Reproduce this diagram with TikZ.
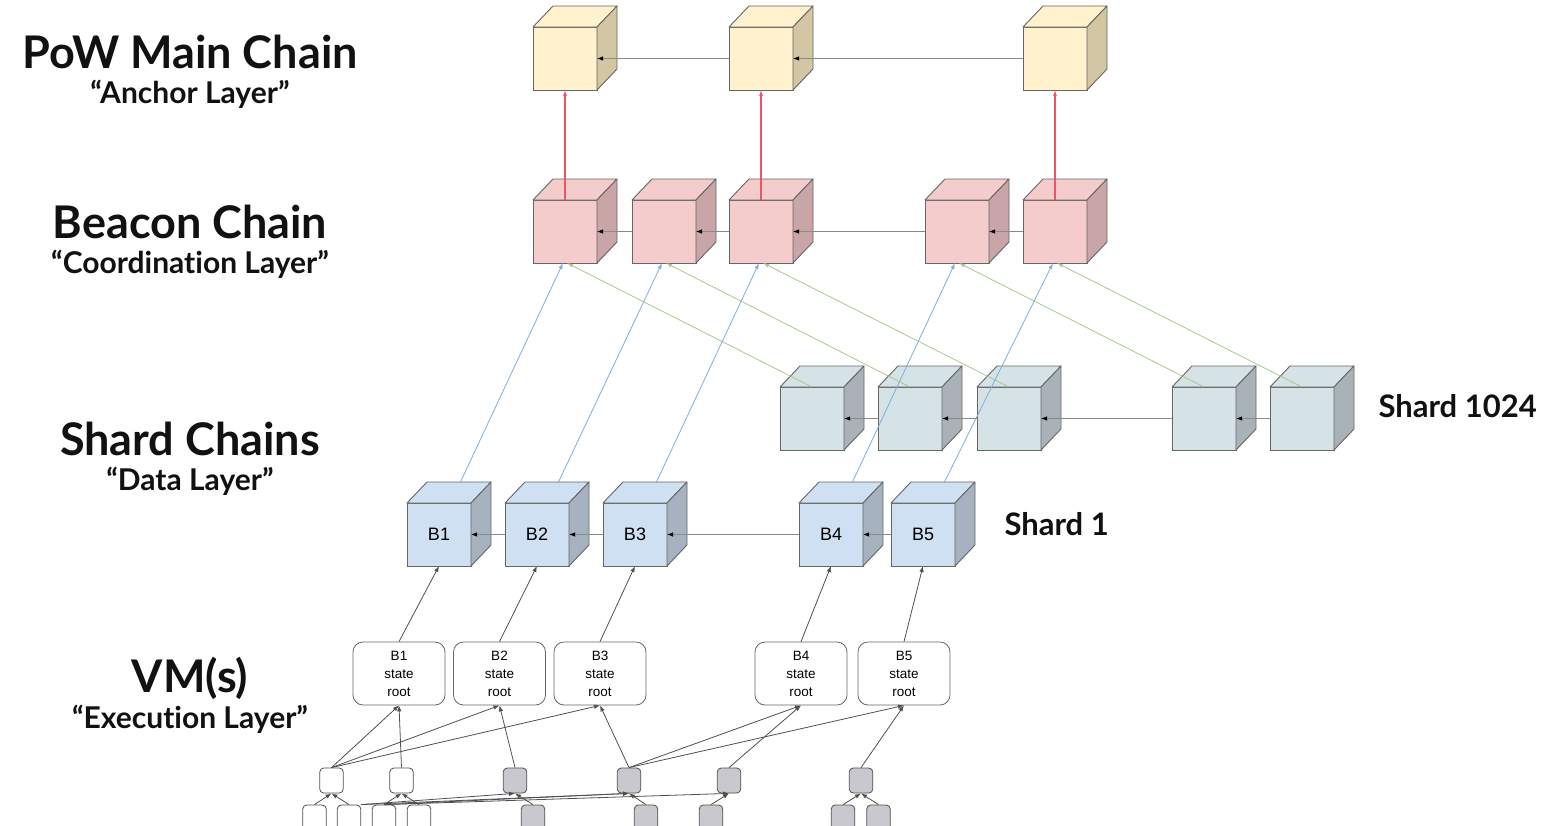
\documentclass[tikz,border=0pt]{standalone}
\usepackage{fontspec}
\setmainfont{Liberation Sans}
\newfontfamily\headfont{Lato}[Ligatures=NoCommon]
\usetikzlibrary{arrows.meta,calc}
\definecolor{powF}{HTML}{FFF2CC}
\definecolor{powS}{HTML}{D2C6A3}
\definecolor{beaF}{HTML}{F4CCCC}
\definecolor{beaS}{HTML}{C9A5A8}
\definecolor{shdF}{HTML}{D5E2E6}
\definecolor{shdS}{HTML}{A9B3B7}
\definecolor{sone}{HTML}{CFE0F3}
\definecolor{soneS}{HTML}{A6B2C0}
\definecolor{edgeC}{HTML}{666666}
\definecolor{rowC}{HTML}{8A8A8A}
\definecolor{redC}{HTML}{EA5466}
\definecolor{bluC}{HTML}{7FAEDB}
\definecolor{grnC}{HTML}{A8CA8E}
\definecolor{treeC}{HTML}{505050}
\definecolor{grayBox}{HTML}{C9C8CF}
\definecolor{txtC}{HTML}{111111}
\tikzset{
  cubefront/.style={draw=edgeC, line width=0.9pt, minimum width=64pt, minimum height=63pt, inner sep=0pt, outer sep=0pt, font=\fontsize{18}{20}\selectfont},
  cubeline/.style={draw=edgeC, line width=0.9pt, line join=round},
  rowarrow/.style={draw=rowC, line width=0.9pt, -{Latex[length=6pt,width=4.5pt,color=black]}},
  redarrow/.style={draw=redC, line width=1.05pt, -{Latex[length=6pt,width=4pt]}},
  bluarrow/.style={draw=bluC, line width=0.8pt, -{Latex[length=6pt,width=4pt]}},
  grnarrow/.style={draw=grnC, line width=0.8pt, -{Latex[length=6pt,width=4pt]}},
  treearrow/.style={draw=treeC, line width=0.8pt, -{Latex[length=6pt,width=4.5pt]}},
  rootbox/.style={draw=edgeC, line width=0.8pt, rounded corners=10pt, minimum width=92pt, minimum height=63pt, inner sep=0pt, align=center, font=\fontsize{13.5}{18}\selectfont},
  leafbox/.style={draw=treeC, line width=0.8pt, rounded corners=4pt, minimum width=23.5pt, minimum height=25pt, inner sep=0pt},
  head/.style={anchor=base, text=txtC, font=\headfont\bfseries\fontsize{45}{50}\selectfont},
  subhead/.style={anchor=base, text=txtC, font=\headfont\bfseries\fontsize{30}{32}\selectfont},
  shardlab/.style={anchor=base west, text=txtC, font=\headfont\bfseries\fontsize{31}{33}\selectfont}
}
\newcommand\mycube[6]{%
  \node[cubefront, fill=#4, anchor=north west] (#1) at (#2,#3) {#6};
  \filldraw[cubeline, fill=#4] (#1.north west) -- ++(20,-21) -- ++(64,0) -- (#1.north east) -- cycle;
  \filldraw[cubeline, fill=#5] (#1.north east) -- ++(20,-21) -- ++(0,63) -- (#1.south east) -- cycle;
}
\begin{document}
\begin{tikzpicture}[x=1pt,y=-1pt]
\useasboundingbox (0,0) rectangle (1548,825);
\clip (0,0) rectangle (1548,825);
\fill[white] (0,0) rectangle (1548,825);

% headings
\node[head] (h1) at (190,68) {PoW Main Chain};
\node[subhead] (s1) at (190,103) {“Anchor Layer”};
\node[head] (h2) at (190,238) {Beacon Chain};
\node[subhead] (s2) at (190,273) {“Coordination Layer”};
\node[head] (h3) at (190,455) {Shard Chains};
\node[subhead] (s3) at (190,490) {“Data Layer”};
\node[head] (h4) at (190,692) {VM(s)};
\node[subhead] (s4) at (190,728) {“Execution Layer”};
\node[shardlab] (lab1024) at (1375,417) {Shard 1024};
\node[shardlab] (labone) at (1001,535) {Shard 1};

% PoW cubes
\mycube{p1}{533}{27}{powF}{powS}{}
\mycube{p2}{729}{27}{powF}{powS}{}
\mycube{p3}{1023}{27}{powF}{powS}{}
% Beacon cubes
\mycube{b1}{533}{200}{beaF}{beaS}{}
\mycube{b2}{632}{200}{beaF}{beaS}{}
\mycube{b3}{729}{200}{beaF}{beaS}{}
\mycube{b4}{925}{200}{beaF}{beaS}{}
\mycube{b5}{1023}{200}{beaF}{beaS}{}
% Shard 1024 cubes
\mycube{c1}{780}{387}{shdF}{shdS}{}
\mycube{c2}{878}{387}{shdF}{shdS}{}
\mycube{c3}{977}{387}{shdF}{shdS}{}
\mycube{c4}{1172}{387}{shdF}{shdS}{}
\mycube{c5}{1270}{387}{shdF}{shdS}{}
% Shard 1 cubes
\mycube{d1}{407}{503}{sone}{soneS}{B1}
\mycube{d2}{505}{503}{sone}{soneS}{B2}
\mycube{d3}{603}{503}{sone}{soneS}{B3}
\mycube{d4}{799}{503}{sone}{soneS}{B4}
\mycube{d5}{891}{503}{sone}{soneS}{B5}

% row connectors
\draw[rowarrow] (p2.west) -- (p1.east);
\draw[rowarrow] (p3.west) -- (p2.east);
\draw[rowarrow] (b2.west) -- (b1.east);
\draw[rowarrow] (b3.west) -- (b2.east);
\draw[rowarrow] (b4.west) -- (b3.east);
\draw[rowarrow] (b5.west) -- (b4.east);
\draw[rowarrow] (c2.west) -- (c1.east);
\draw[rowarrow] (c3.west) -- (c2.east);
\draw[rowarrow] (c4.west) -- (c3.east);
\draw[rowarrow] (c5.west) -- (c4.east);
\draw[rowarrow] (d2.west) -- (d1.east);
\draw[rowarrow] (d3.west) -- (d2.east);
\draw[rowarrow] (d4.west) -- (d3.east);
\draw[rowarrow] (d5.west) -- (d4.east);

% red anchors
\draw[redarrow] (b1.north) -- (p1.south);
\draw[redarrow] (b3.north) -- (p2.south);
\draw[redarrow] (b5.north) -- (p3.south);

% green crosslinks
\draw[grnarrow] (c1.north) -- ($(b1.south)+(2,0)$);
\draw[grnarrow] (c2.north) -- ($(b2.south)+(2,0)$);
\draw[grnarrow] (c3.north) -- ($(b3.south)+(2,0)$);
\draw[grnarrow] (c4.north) -- ($(b4.south)+(2,0)$);
\draw[grnarrow] (c5.north) -- ($(b5.south)+(2,0)$);
% blue crosslinks
\draw[bluarrow] ($(d1.north)+(21,-20)$) -- ($(b1.south)+(-2,0)$);
\draw[bluarrow] ($(d2.north)+(21,-20)$) -- ($(b2.south)+(-2,0)$);
\draw[bluarrow] ($(d3.north)+(21,-20)$) -- ($(b3.south)+(-2,0)$);
\draw[bluarrow] ($(d4.north)+(21,-20)$) -- ($(b4.south)+(-2,0)$);
\draw[bluarrow] ($(d5.north)+(21,-20)$) -- ($(b5.south)+(-2,0)$);

% state roots
\node[rootbox] (r1) at (399,673.5) {B1\\state\\root};
\node[rootbox] (r2) at (499.5,673.5) {B2\\state\\root};
\node[rootbox] (r3) at (600,673.5) {B3\\state\\root};
\node[rootbox] (r4) at (801,673.5) {B4\\state\\root};
\node[rootbox] (r5) at (904,673.5) {B5\\state\\root};
\draw[treearrow] (r1.north) -- (d1.south);
\draw[treearrow] (r2.north) -- (d2.south);
\draw[treearrow] (r3.north) -- (d3.south);
\draw[treearrow] (r4.north) -- (d4.south);
\draw[treearrow] (r5.north) -- (d5.south);

% tree level 1
\node[leafbox, fill=white] (ta) at (331.5,780.5) {};
\node[leafbox, fill=white] (tb) at (401.5,780.5) {};
\node[leafbox, fill=grayBox] (tc) at (515,780.5) {};
\node[leafbox, fill=grayBox] (td) at (629,780.5) {};
\node[leafbox, fill=grayBox] (te) at (729,780.5) {};
\node[leafbox, fill=grayBox] (tf) at (861,780.5) {};
% tree level 2
\node[leafbox, fill=white] (ua) at (314.5,817.5) {};
\node[leafbox, fill=white] (ub) at (349,817.5) {};
\node[leafbox, fill=white] (uc) at (384,817.5) {};
\node[leafbox, fill=white] (ud) at (419,817.5) {};
\node[leafbox, fill=grayBox] (ue) at (533,817.5) {};
\node[leafbox, fill=grayBox] (uf) at (646,817.5) {};
\node[leafbox, fill=grayBox] (ug) at (711,817.5) {};
\node[leafbox, fill=grayBox] (uh) at (843,817.5) {};
\node[leafbox, fill=grayBox] (ui) at (878.5,817.5) {};

% level1 -> state roots
\draw[treearrow] (ta.north) -- (r1.south);
\draw[treearrow] (ta.north) -- (r2.south);
\draw[treearrow] (ta.north) -- (r3.south);
\draw[treearrow] (tb.north) -- (r1.south);
\draw[treearrow] (tc.north) -- (r2.south);
\draw[treearrow] (td.north) -- (r3.south);
\draw[treearrow] (td.north) -- (r4.south);
\draw[treearrow] (td.north) -- (r5.south);
\draw[treearrow] (te.north) -- (r4.south);
\draw[treearrow] (tf.north) -- (r5.south);

% level2 -> level1
\draw[treearrow] (ua.north) -- (ta.south);
\draw[treearrow] (ub.north) -- (ta.south);
\draw[treearrow] (uc.north) -- (tb.south);
\draw[treearrow] (ud.north) -- (tb.south);
\draw[treearrow] (ub.north east) -- (tc.south);
\draw[treearrow] (ub.north east) -- (td.south);
\draw[treearrow] (uc.north) -- (td.south);
\draw[treearrow] (uc.north) -- (te.south);
\draw[treearrow] (ue.north) -- (tc.south);
\draw[treearrow] (uf.north) -- (td.south);
\draw[treearrow] (ug.north) -- (te.south);
\draw[treearrow] (uh.north) -- (tf.south);
\draw[treearrow] (ui.north) -- (tf.south);
\end{tikzpicture}
\end{document}
